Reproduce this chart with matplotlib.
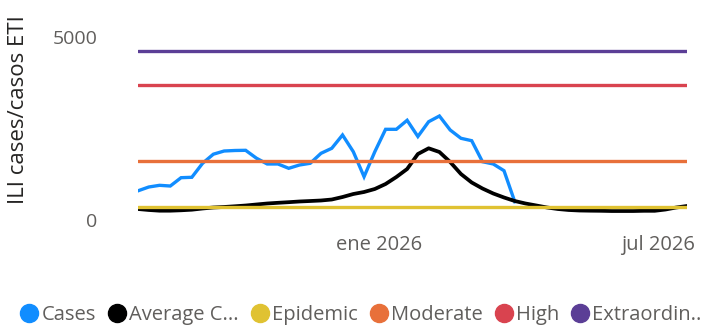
import numpy as np
import pandas as pd
import matplotlib
matplotlib.use("Agg")
import matplotlib.pyplot as plt
from matplotlib.lines import Line2D

# weekly surveillance data, season 2025/26
weeks = pd.date_range("2025-07-28", periods=52, freq="W-MON")

cases = [796, 900, 946, 927, 1154, 1165, 1547, 1795, 1882, 1896,
         1901, 1686, 1528, 1528, 1410, 1500, 1547, 1819, 1956, 2319,
         1863, 1181, 1863, 2474, 2474, 2720, 2278, 2681, 2837, 2455,
         2229, 2163, 1590, 1528, 1345, 499]

average_cases = [300, 273, 254, 254, 265, 281, 314, 341, 355, 374,
                 395, 423, 450, 469, 486, 505, 518, 532, 559, 627,
                 709, 764, 846, 982, 1173, 1391, 1800, 1956, 1855, 1582,
                 1255, 1023, 859, 723, 614, 518, 450, 396, 341, 300,
                 273, 259, 254, 251, 245, 245, 245, 251, 251, 286,
                 341, 382]

thresholds = {
    "Epidemic": 363,
    "Moderate": 1601,
    "High": 3682,
    "Extraordinary": 4610,
}

legend_labels = ["Cases", "Average C...", "Epidemic", "Moderate", "High", "Extraordin.."]
xtick_dates = ["2026-01-01", "2026-07-01"]
xtick_labels = ["ene 2026", "jul 2026"]
ytick_values = [0, 5000]

colors = ["#118DFF", "#000000", "#E0C232", "#E8703A", "#D9434F", "#5B3E96"]

plt.rcParams["font.family"] = ["Open Sans", "DejaVu Sans"]

fig = plt.figure(figsize=(7.01, 3.26), dpi=100)
ax = fig.add_axes([138 / 701, 1 - 220 / 326, 549 / 701, (220 - 36.7) / 326])

lw = 2.4
ax.plot(weeks[:len(cases)], cases, color=colors[0], lw=lw, zorder=2,
        solid_joinstyle="miter")
ax.plot(weeks, average_cases, color=colors[1], lw=2.7, zorder=3,
        solid_capstyle="round")
for i, (name, val) in enumerate(thresholds.items()):
    ax.plot(weeks, [val] * len(weeks), color=colors[i + 2], lw=lw,
            zorder=4 + i, solid_capstyle="round")

ax.set_xlim(weeks[0], weeks[-1])
ax.set_ylim(0, 5000)

for s in ax.spines.values():
    s.set_visible(False)

ax.set_yticks(ytick_values)
ax.set_yticklabels([str(v) for v in ytick_values])
ax.set_xticks(pd.to_datetime(xtick_dates))
ax.set_xticklabels(xtick_labels)
ax.tick_params(axis="both", length=0, labelsize=14, labelcolor="#605E5C")
ax.tick_params(axis="x", labelsize=14.5, pad=11)
ax.tick_params(axis="y", pad=29)

ax.set_ylabel("ILI cases/casos ETI", fontsize=16, color="#252423")
ax.yaxis.set_label_coords(-0.1985, 0.6)

handles = [Line2D([], [], marker="o", ls="none", color=c, markersize=13)
           for c in colors]
fig.legend(handles, legend_labels, ncol=6, loc="center left",
           bbox_to_anchor=(0.029, 1 - 315 / 326), frameon=False,
           fontsize=14.5, labelcolor="#605E5C", handlelength=0.9,
           handletextpad=0.15, columnspacing=0.6, borderpad=0,
           borderaxespad=0)

fig.savefig("out.png", dpi=100)
